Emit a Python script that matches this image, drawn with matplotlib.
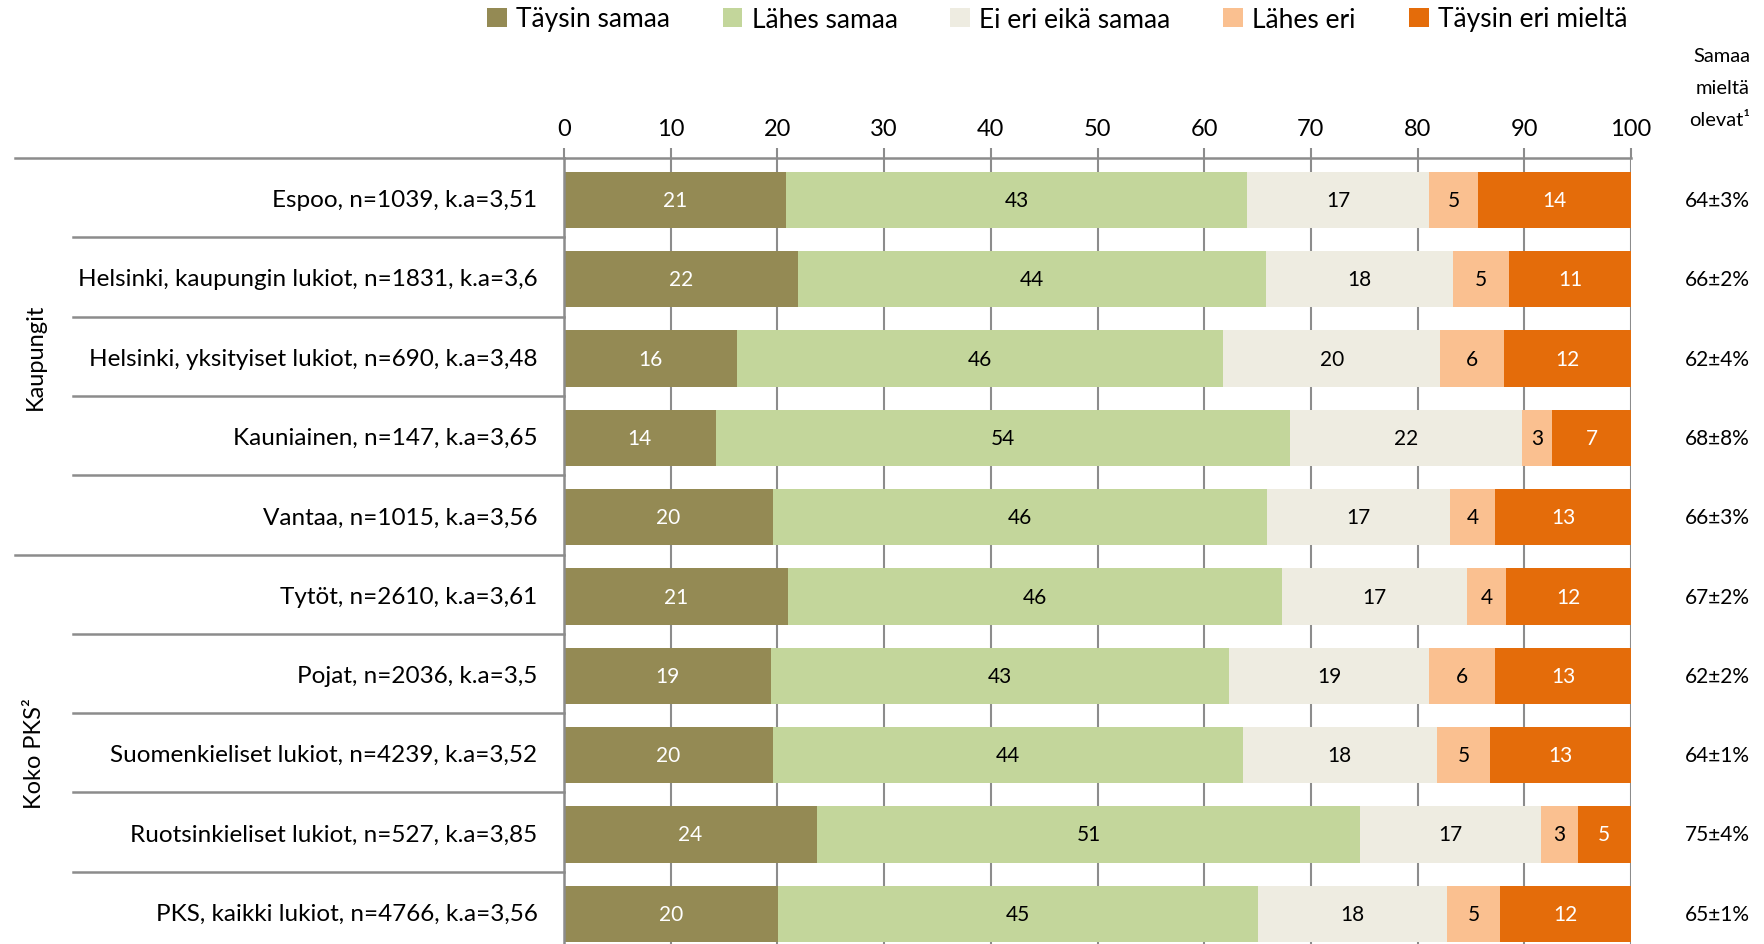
import matplotlib.pyplot as plt
import matplotlib.transforms as mtransforms
from matplotlib.patches import Patch
import numpy as np

plt.rcParams['font.family'] = ['Lato', 'DejaVu Sans']

# --- DATA ---
CATEGORIES = [
    "Espoo, n=1039, k.a=3,51",
    "Helsinki, kaupungin lukiot, n=1831, k.a=3,6",
    "Helsinki, yksityiset lukiot, n=690, k.a=3,48",
    "Kauniainen, n=147, k.a=3,65",
    "Vantaa, n=1015, k.a=3,56",
    "Tytöt, n=2610, k.a=3,61",
    "Pojat, n=2036, k.a=3,5",
    "Suomenkieliset lukiot, n=4239, k.a=3,52",
    "Ruotsinkieliset lukiot, n=527, k.a=3,85",
    "PKS, kaikki lukiot, n=4766, k.a=3,56",
]
SERIES = ["Täysin samaa", "Lähes samaa", "Ei eri eikä samaa", "Lähes eri", "Täysin eri mieltä"]
TAYSIN_SAMAA = [20.8, 21.9, 16.2, 14.2, 19.6, 21.0, 19.4, 19.6, 23.7, 20.1]
LAHES_SAMAA = [43.2, 43.9, 45.6, 53.8, 46.3, 46.3, 42.9, 44.0, 50.9, 44.9]
EI_ERI = [17.1, 17.5, 20.3, 21.8, 17.1, 17.3, 18.8, 18.2, 17.0, 17.8]
LAHES_ERI = [4.6, 5.3, 6.0, 2.8, 4.3, 3.7, 6.2, 5.0, 3.4, 4.9]
TAYSIN_ERI = [14.3, 11.4, 11.9, 7.4, 12.7, 11.7, 12.7, 13.2, 5.0, 12.3]
SAMAA_MIELTA = ["64±3%", "66±2%", "62±4%", "68±8%", "66±3%",
                "67±2%", "62±2%", "64±1%", "75±4%", "65±1%"]
GROUPS = [("Kaupungit", 0, 4), ("Koko PKS²", 5, 9)]

COLORS = ['#948A54', '#C3D69B', '#EEECE1', '#FAC090', '#E46C0A']
LABEL_COLORS = ['white', 'black', 'black', 'black', 'white']
GRID = '#8C8C8C'

W, H = 1765, 945
fig = plt.figure(figsize=(W / 100, H / 100), dpi=100)

# axes placement (pixels -> figure fraction)
x0, x1 = 564, 1631
top = 159
row_h = 79.3
ax_h = H - top
ax = fig.add_axes([x0 / W, 0, (x1 - x0) / W, ax_h / H])

values = [TAYSIN_SAMAA, LAHES_SAMAA, EI_ERI, LAHES_ERI, TAYSIN_ERI]
y = np.arange(len(CATEGORIES))
left = np.zeros(len(CATEGORIES))
for name, vals, col, lcol in zip(SERIES, values, COLORS, LABEL_COLORS):
    bars = ax.barh(y + 0.03, vals, left=left, height=0.71, color=col, label=name, zorder=2)
    ax.bar_label(bars, labels=[f"{v:.0f}" for v in vals], label_type='center',
                 color=lcol, fontsize=15)
    left += np.array(vals)

ax.set_xlim(0, 100)
ax.set_ylim(-0.5 + ax_h / row_h, -0.5)
ax.set_xticks(np.arange(0, 101, 10))
ax.xaxis.tick_top()
ax.tick_params(axis='x', direction='out', length=7, width=1.5, color=GRID,
               labelsize=17, pad=7)
ax.set_yticks(y)
ax.set_yticklabels(CATEGORIES)
ax.tick_params(axis='y', length=0, labelsize=17.5, pad=19)
ax.grid(axis='x', color=GRID, linewidth=1.5, zorder=0)
ax.set_axisbelow(True)
for s in ['right', 'bottom']:
    ax.spines[s].set_visible(False)
for s in ['left', 'top']:
    ax.spines[s].set_color(GRID)
    ax.spines[s].set_linewidth(1.8)

# category separators in the label area
trans = mtransforms.blended_transform_factory(fig.transFigure, ax.transData)
for b in range(len(CATEGORIES) + 1):
    yb = b - 0.5
    start = 15 if b in (0, 5, 10) else 73
    ax.plot([start / W, x0 / W], [yb, yb], transform=trans, color=GRID,
            linewidth=1.8, clip_on=False)

for name, a, b in GROUPS:
    fig.text(35 / W, (a + b) / 2, name, transform=trans, rotation=90,
             ha='center', va='center', fontsize=17)

# right column
for i, txt in enumerate(SAMAA_MIELTA):
    fig.text(1750 / W, i + 0.03, txt, transform=trans, ha='right', va='center', fontsize=15)
for j, line in enumerate(["Samaa", "mieltä", "olevat¹"]):
    fig.text(1750 / W, 1 - (57 + 31.5 * j) / H, line, ha='right', va='center', fontsize=14.5)

handles = [Patch(facecolor=c, edgecolor='none') for c in COLORS]
fig.legend(handles, SERIES, loc='center', bbox_to_anchor=(1057 / W, 1 - 20 / H),
           ncol=5, frameon=False, fontsize=19, handlelength=0.75, handleheight=0.75,
           handletextpad=0.35, columnspacing=2.0)

fig.savefig('out.png', dpi=100)
